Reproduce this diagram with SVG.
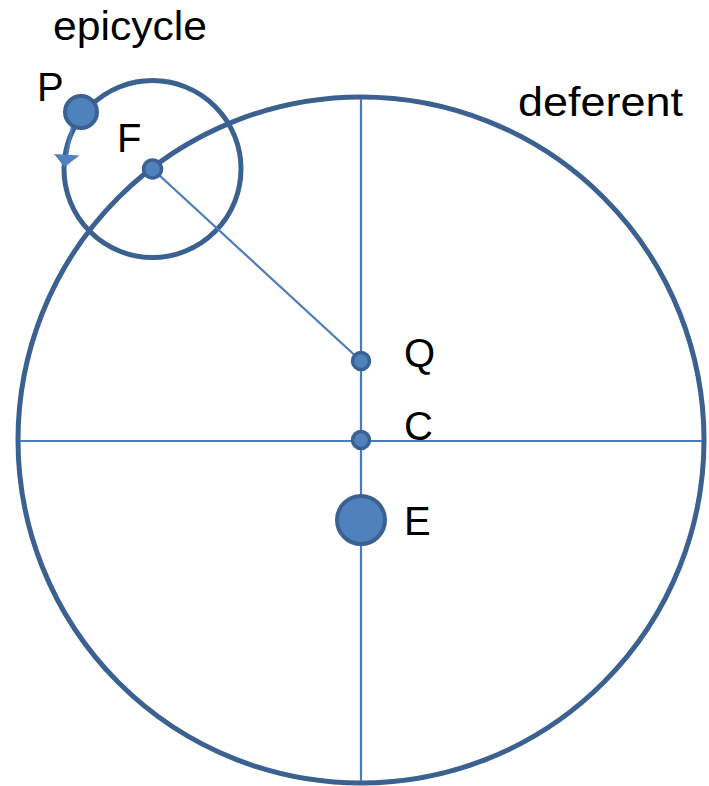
<svg xmlns="http://www.w3.org/2000/svg" width="709" height="786" viewBox="0 0 709 786">
<style>
.orbit{fill:none;stroke:#3b6190;stroke-width:5}
.axis{stroke:#4a7bbb;stroke-width:2.2;fill:none}
.dot{fill:#4f81bd;stroke:#3b6190}
.lbl{font-family:"Liberation Sans",Arial,sans-serif;font-size:40px;fill:#000}
</style>
<g id="deferent"><circle class="orbit" cx="361" cy="440" r="343"/></g>
<g id="epicycle"><circle class="orbit" cx="152.5" cy="169" r="88.5" stroke-width="4"/></g>
<g id="connectors">
<line class="axis" x1="20" y1="441" x2="702" y2="441"/>
<line class="axis" x1="361" y1="99" x2="361" y2="781"/>
<line class="axis" x1="152.5" y1="169" x2="361" y2="361" stroke-width="1.6"/>
<line class="axis" x1="72" y1="126" x2="67" y2="157" stroke="#4f81bd" stroke-width="3"/>
<polygon points="54,154 79.5,155.5 64.5,167" fill="#4f81bd"/>
</g>
<g id="P"><circle class="dot" cx="81" cy="112" r="16" stroke-width="4"/></g>
<g id="F"><circle class="dot" cx="152.5" cy="169" r="9" stroke-width="3.5"/></g>
<g id="Q"><circle class="dot" cx="361" cy="361" r="8.5" stroke-width="3.5"/></g>
<g id="C"><circle class="dot" cx="361" cy="440" r="8.5" stroke-width="3.5"/></g>
<g id="E"><circle class="dot" cx="361" cy="520" r="24" stroke-width="4"/></g>
<g id="labels">
<text class="lbl" x="53" y="40" textLength="154" lengthAdjust="spacingAndGlyphs">epicycle</text>
<text class="lbl" x="518" y="116" textLength="165" lengthAdjust="spacingAndGlyphs">deferent</text>
<text class="lbl" x="37" y="101">P</text>
<text class="lbl" x="117" y="152">F</text>
<text class="lbl" x="404" y="367">Q</text>
<text class="lbl" x="404" y="440">C</text>
<text class="lbl" x="404" y="535">E</text>
</g>
</svg>
